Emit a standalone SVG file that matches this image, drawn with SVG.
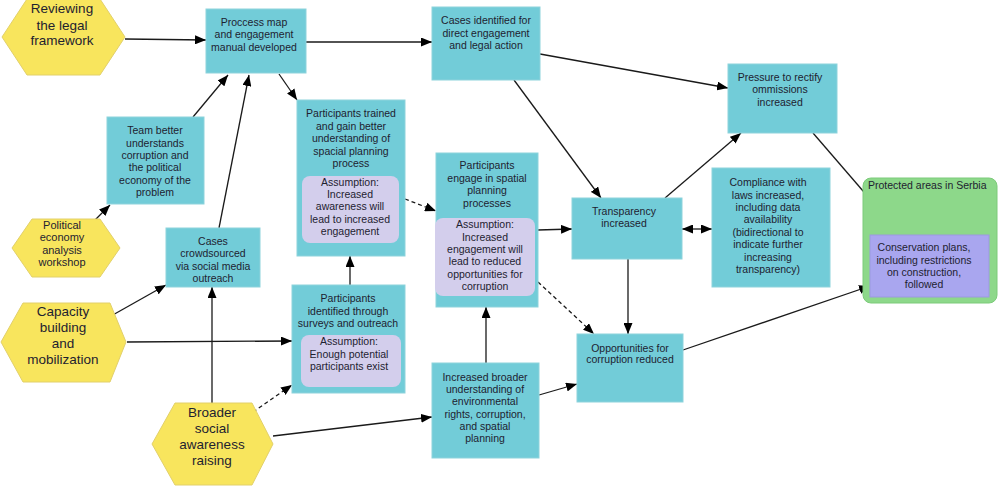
<svg xmlns="http://www.w3.org/2000/svg" width="1000" height="489" viewBox="0 0 1000 489">
<style>
.box{fill:#72CCD8;stroke:#8ED3DC;stroke-width:1}
.inner{fill:#D3CEEC;stroke:none}
.hex{fill:#F8E55D;stroke:#E2D06A;stroke-width:1}
.t{font-family:"Liberation Sans",Arial,sans-serif;font-size:10.5px;fill:#1E2230;text-anchor:middle}
.h{font-family:"Liberation Sans",Arial,sans-serif;font-size:13.5px;fill:#1E2230;text-anchor:middle}
.hs{font-family:"Liberation Sans",Arial,sans-serif;font-size:11px;fill:#1E2230;text-anchor:middle}
.c{fill:none;stroke:#1A1A1A;stroke-width:1.3}
.d{stroke-dasharray:4,3}
</style>
<defs>
<marker id="a" viewBox="0 0 11 9" refX="11" refY="4.5" markerWidth="11" markerHeight="9" orient="auto-start-reverse" markerUnits="userSpaceOnUse">
<path d="M0,0 L11,4.5 L0,9 z" fill="#000"/>
</marker>
</defs>
<rect width="1000" height="489" fill="#fff"/>

<g id="connectors">
<path class="c" d="M125,39 L206,40" marker-end="url(#a)"/>
<path class="c" d="M306,42 L432,42" marker-end="url(#a)"/>
<path class="c" d="M540,54 L728,88" marker-end="url(#a)"/>
<path class="c" d="M279,74 L297,100" marker-end="url(#a)"/>
<path class="c" d="M193,117 L228,75" marker-end="url(#a)"/>
<path class="c" d="M219,228 L249,75" marker-end="url(#a)"/>
<path class="c" d="M93,222 L110,205" marker-end="url(#a)"/>
<path class="c" d="M111,316 L166,285" marker-end="url(#a)"/>
<path class="c" d="M127,342 L292,341" marker-end="url(#a)"/>
<path class="c" d="M212,403 L212,287" marker-end="url(#a)"/>
<path class="c d" d="M253,412 L292,385" marker-end="url(#a)"/>
<path class="c" d="M273,436 L432,417" marker-end="url(#a)"/>
<path class="c" d="M350,285 L350,256" marker-end="url(#a)"/>
<path class="c d" d="M405,199 L436,211" marker-end="url(#a)"/>
<path class="c" d="M486,363 L486,307" marker-end="url(#a)"/>
<path class="c" d="M538,230 L572,229" marker-end="url(#a)"/>
<path class="c d" d="M538,282 L594,334" marker-end="url(#a)"/>
<path class="c" d="M514,80 L601,198" marker-end="url(#a)"/>
<path class="c" d="M665,198 L741,133" marker-end="url(#a)"/>
<path class="c" d="M682,229 L712,229" marker-start="url(#a)" marker-end="url(#a)"/>
<path class="c" d="M628,259 L628,334" marker-end="url(#a)"/>
<path class="c" d="M539,395 L577,384" marker-end="url(#a)"/>
<path class="c" d="M683,350 L870,286" marker-end="url(#a)"/>
<path class="c" d="M813,133 L901,235" marker-end="url(#a)"/>
</g>

<g id="reviewing">
<polygon class="hex" points="2,37 27,-1 100,-1 125,37 100,75 27,75"/>
<text class="h" x="62" y="13">Reviewing</text>
<text class="h" x="62" y="30">the legal</text>
<text class="h" x="62" y="45">framework</text>
</g>

<g id="political">
<polygon class="hex" points="12,248 32,219 100,219 120,248 100,277 32,277"/>
<text class="hs" x="62" y="229">Political</text>
<text class="hs" x="62" y="241">economy</text>
<text class="hs" x="62" y="254">analysis</text>
<text class="hs" x="62" y="266">workshop</text>
</g>

<g id="capacity">
<polygon class="hex" points="1,342 23,303 110,303 126,342 110,382 23,382"/>
<text class="h" x="63" y="316">Capacity</text>
<text class="h" x="63" y="332">building</text>
<text class="h" x="63" y="348">and</text>
<text class="h" x="63" y="364">mobilization</text>
</g>

<g id="broader">
<polygon class="hex" points="152,444 175,403 252,403 273,444 252,485 175,485"/>
<text class="h" x="212" y="417">Broader</text>
<text class="h" x="212" y="433">social</text>
<text class="h" x="212" y="449">awareness</text>
<text class="h" x="212" y="465">raising</text>
</g>

<g id="process">
<rect class="box" x="206" y="9" width="100" height="64"/>
<text class="t" x="254" y="26">Proccess map</text>
<text class="t" x="254" y="38">and engagement</text>
<text class="t" x="254" y="51">manual developed</text>
</g>

<g id="cases-identified">
<rect class="box" x="432" y="7" width="108" height="73"/>
<text class="t" x="486" y="24">Cases identified for</text>
<text class="t" x="486" y="37">direct engagement</text>
<text class="t" x="486" y="49">and legal action</text>
</g>

<g id="team">
<rect class="box" x="107" y="117" width="97" height="87"/>
<text class="t" x="155" y="134">Team better</text>
<text class="t" x="155" y="147">understands</text>
<text class="t" x="155" y="159">corruption and</text>
<text class="t" x="155" y="171">the political</text>
<text class="t" x="155" y="184">economy of the</text>
<text class="t" x="155" y="196">problem</text>
</g>

<g id="trained">
<rect class="box" x="297" y="100" width="108" height="156"/>
<text class="t" x="351" y="117">Participants trained</text>
<text class="t" x="351" y="130">and gain better</text>
<text class="t" x="351" y="142">understanding of</text>
<text class="t" x="351" y="155">spacial planning</text>
<text class="t" x="351" y="167">process</text>
<rect class="inner" x="302" y="176" width="97" height="67" rx="8"/>
<text class="t" x="350" y="186">Assumption:</text>
<text class="t" x="350" y="198">Increased</text>
<text class="t" x="350" y="210">awareness will</text>
<text class="t" x="350" y="223">lead to increased</text>
<text class="t" x="350" y="235">engagement</text>
</g>

<g id="engage">
<rect class="box" x="436" y="153" width="102" height="154"/>
<text class="t" x="487" y="169">Participants</text>
<text class="t" x="487" y="182">engage in spatial</text>
<text class="t" x="487" y="194">planning</text>
<text class="t" x="487" y="207">processes</text>
<rect class="inner" x="435" y="218" width="100" height="78" rx="8"/>
<text class="t" x="485" y="228">Assumption:</text>
<text class="t" x="485" y="241">Increased</text>
<text class="t" x="485" y="253">engagement will</text>
<text class="t" x="485" y="265">lead to reduced</text>
<text class="t" x="485" y="278">opportunities for</text>
<text class="t" x="485" y="290">corruption</text>
</g>

<g id="transparency">
<rect class="box" x="572" y="198" width="110" height="61"/>
<text class="t" x="624" y="215">Transparency</text>
<text class="t" x="624" y="227">increased</text>
</g>

<g id="pressure">
<rect class="box" x="728" y="64" width="109" height="69"/>
<text class="t" x="780" y="81">Pressure to rectify</text>
<text class="t" x="780" y="93">ommissions</text>
<text class="t" x="780" y="106">increased</text>
</g>

<g id="compliance">
<rect class="box" x="712" y="168" width="118" height="119"/>
<text class="t" x="768" y="186">Compliance with</text>
<text class="t" x="768" y="199">laws increased,</text>
<text class="t" x="768" y="211">including data</text>
<text class="t" x="768" y="223">availability</text>
<text class="t" x="768" y="236">(bidirectional to</text>
<text class="t" x="768" y="248">indicate further</text>
<text class="t" x="768" y="261">increasing</text>
<text class="t" x="768" y="273">transparency)</text>
</g>

<g id="protected">
<rect x="863" y="178" width="134" height="125" rx="8" fill="#8DD88A" stroke="#7CCB7A"/>
<text class="t" x="868" y="189" style="text-anchor:start">Protected areas in Serbia</text>
</g>

<g id="conservation">
<rect x="870" y="235" width="119" height="62" fill="#A9A6EF" stroke="#9C99E0"/>
<text class="t" x="924" y="251">Conservation plans,</text>
<text class="t" x="924" y="264">including restrictions</text>
<text class="t" x="924" y="276">on construction,</text>
<text class="t" x="924" y="288">followed</text>
</g>

<g id="crowdsourced">
<rect class="box" x="166" y="228" width="94" height="59"/>
<text class="t" x="213" y="245">Cases</text>
<text class="t" x="213" y="257">crowdsourced</text>
<text class="t" x="213" y="270">via social media</text>
<text class="t" x="213" y="282">outreach</text>
</g>

<g id="identified">
<rect class="box" x="292" y="285" width="113" height="108"/>
<text class="t" x="348" y="302">Participants</text>
<text class="t" x="348" y="315">identified through</text>
<text class="t" x="348" y="327">surveys and outreach</text>
<rect class="inner" x="301" y="335" width="100" height="52" rx="8"/>
<text class="t" x="349" y="345">Assumption:</text>
<text class="t" x="349" y="358">Enough potential</text>
<text class="t" x="349" y="370">participants exist</text>
</g>

<g id="understanding">
<rect class="box" x="432" y="363" width="107" height="95"/>
<text class="t" x="485" y="381">Increased broader</text>
<text class="t" x="485" y="393">understanding of</text>
<text class="t" x="485" y="405">environmental</text>
<text class="t" x="485" y="418">rights, corruption,</text>
<text class="t" x="485" y="430">and spatial</text>
<text class="t" x="485" y="442">planning</text>
</g>

<g id="opportunities">
<rect class="box" x="577" y="334" width="106" height="68"/>
<text class="t" x="630" y="352">Opportunities for</text>
<text class="t" x="630" y="363">corruption reduced</text>
</g>
</svg>
